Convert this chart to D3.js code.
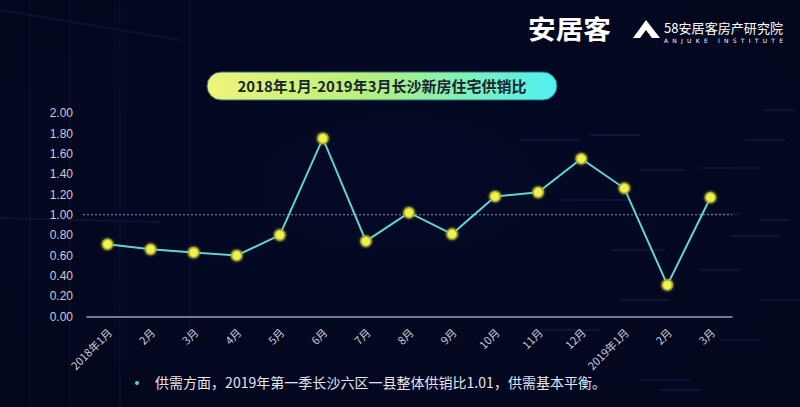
<!DOCTYPE html>
<html><head><meta charset="utf-8">
<script src="https://cdn.jsdelivr.net/npm/d3@7/dist/d3.min.js"></script>
<style>
html,body{margin:0;padding:0;background:#050a24;}
svg{display:block;}
</style></head>
<body>
<svg id="chart" width="800" height="407"></svg>
<script>
const categories = ["2018年1月","2月","3月","4月","5月","6月","7月","8月","9月","10月","11月","12月","2019年1月","2月","3月"];
const ratios = [0.71,0.66,0.63,0.60,0.80,1.75,0.74,1.02,0.81,1.18,1.22,1.55,1.26,0.31,1.17];
const yTicks = [0,0.2,0.4,0.6,0.8,1.0,1.2,1.4,1.6,1.8,2.0];
const balanceLine = 1.0;
const titleText = "2018年1月-2019年3月长沙新房住宅供销比";
const noteText = "供需方面，2019年第一季长沙六区一县整体供销比1.01，供需基本平衡。";

const svg = d3.select("#chart");
const W = 800, H = 407;
const font = "'Noto Sans CJK SC','Noto Sans',sans-serif";

// background
const defs = svg.append("defs");
const bg = defs.append("radialGradient").attr("id","bg").attr("cx","50%").attr("cy","45%").attr("r","70%");
bg.append("stop").attr("offset","0%").attr("stop-color","#040926");
bg.append("stop").attr("offset","100%").attr("stop-color","#03071d");
svg.append("rect").attr("width",W).attr("height",H).attr("fill","url(#bg)");

// decorative faint background lines
const deco = svg.append("g").attr("opacity",0.45);
[[30,0,30,407],[70,0,70,407],[120,0,120,407],[190,0,190,330]].forEach(d=>{
  deco.append("line").attr("x1",d[0]).attr("y1",d[1]).attr("x2",d[2]).attr("y2",d[3]).attr("stroke","#16224a").attr("stroke-width",1);
});
deco.append("line").attr("x1",0).attr("y1",10).attr("x2",180).attr("y2",40).attr("stroke","#1a2856").attr("stroke-width",1.5);
deco.append("line").attr("x1",0).attr("y1",218).attr("x2",160).attr("y2",222).attr("stroke","#17244e").attr("stroke-width",2);
const streaks = [[520,140,60],[590,135,50],[640,170,45],[700,168,60],[560,200,70],[700,214,40],[760,220,30],[610,250,55],[730,236,50],[620,300,50],[700,270,40],[760,300,40],[540,330,60],[720,340,40],[640,380,50],[765,110,30],[680,30,60],[745,140,40],[660,390,40]];
streaks.forEach(s=>{
  deco.append("line").attr("x1",s[0]).attr("y1",s[1]).attr("x2",s[0]+s[2]).attr("y2",s[1]).attr("stroke","#1c3566").attr("stroke-width",1.5);
});

// logo
svg.append("text").attr("x",528).attr("y",39).attr("font-family",font).attr("font-weight","bold")
  .attr("font-size",26).attr("fill","#ffffff").attr("textLength",83).attr("lengthAdjust","spacingAndGlyphs").text("安居客");
svg.append("path").attr("d","M646,20 L660,38 L652,38 L646,30 L640,38 L633,38 Z").attr("fill","#ffffff");
svg.append("text").attr("x",664).attr("y",33).attr("font-family",font)
  .attr("font-size",13).attr("fill","#ffffff").attr("textLength",119).text("58安居客房产研究院");
svg.append("text").attr("x",664).attr("y",43).attr("font-family","'DejaVu Sans',sans-serif")
  .attr("font-size",6).attr("fill","#ffffff").attr("textLength",119).attr("lengthAdjust","spacing").text("ANJUKE   INSTITUTE");

// title pill
const tg = defs.append("linearGradient").attr("id","pill").attr("x1","0%").attr("x2","100%");
tg.append("stop").attr("offset","0%").attr("stop-color","#eef57a");
tg.append("stop").attr("offset","45%").attr("stop-color","#b6f07c");
tg.append("stop").attr("offset","100%").attr("stop-color","#4ef0f2");
svg.append("rect").attr("x",207).attr("y",72).attr("width",350).attr("height",28).attr("rx",14)
  .attr("fill","url(#pill)").attr("stroke","#2b6a7a").attr("stroke-width",1);
svg.append("text").attr("x",382).attr("y",91.5).attr("text-anchor","middle").attr("font-family",font)
  .attr("font-weight","bold").attr("font-size",15).attr("fill","#1b2430").text(titleText);

// scales (index-based domain because month labels repeat)
const idx = d3.range(categories.length);
const x = d3.scalePoint().domain(idx).range([86,732]).padding(0.5);
const y = d3.scaleLinear().domain([0,2]).range([316.5,113]);

// y axis
const yAxis = svg.append("g").attr("transform","translate(86,0)")
  .call(d3.axisLeft(y).tickValues(yTicks).tickFormat(d3.format(".2f")).tickSize(0).tickPadding(13));
yAxis.select(".domain").remove();
yAxis.selectAll("text").attr("font-family","'Liberation Sans',Arial,sans-serif").attr("font-size",12).attr("fill","#c9ccd6");

// x axis
const xAxis = svg.append("g").attr("transform","translate(0,316.5)")
  .call(d3.axisBottom(x).tickFormat(i=>categories[i]).tickSize(0).tickPadding(0));
xAxis.select(".domain").attr("stroke","#9aa2b8").attr("stroke-width",1.5);
xAxis.selectAll("text").attr("font-family",font).attr("font-size",11).attr("fill","#c9ccd6")
  .attr("text-anchor","end").attr("dy",0)
  .attr("transform","translate(5,17) rotate(-45)");

// reference line at 1.0
svg.append("line").attr("x1",83).attr("x2",732).attr("y1",y(balanceLine)).attr("y2",y(balanceLine))
  .attr("stroke","#8a93ad").attr("stroke-width",1).attr("stroke-dasharray","2,2");

// line
svg.append("path").datum(ratios)
  .attr("d",d3.line().x((d,i)=>x(i)).y(d=>y(d)))
  .attr("fill","none").attr("stroke","#5fd6d2").attr("stroke-width",2);

// markers with glow
const glow = defs.append("filter").attr("id","glow").attr("x","-100%").attr("y","-100%").attr("width","300%").attr("height","300%");
glow.append("feGaussianBlur").attr("stdDeviation",1.5).attr("result","b");
const m = glow.append("feMerge"); m.append("feMergeNode").attr("in","b"); m.append("feMergeNode").attr("in","SourceGraphic");
svg.append("g").selectAll("circle").data(ratios).join("circle")
  .attr("cx",(d,i)=>x(i)).attr("cy",d=>y(d)).attr("r",5)
  .attr("fill","#eef24e").attr("stroke","#a8a832").attr("stroke-width",1.5).attr("filter","url(#glow)");

// note
svg.append("circle").attr("cx",137).attr("cy",383).attr("r",2).attr("fill","#4fd6d0");
svg.append("text").attr("x",155).attr("y",388).attr("font-family",font).attr("font-size",14)
  .attr("fill","#e4e6ee").attr("textLength",451).text(noteText);
</script>
</body></html>
